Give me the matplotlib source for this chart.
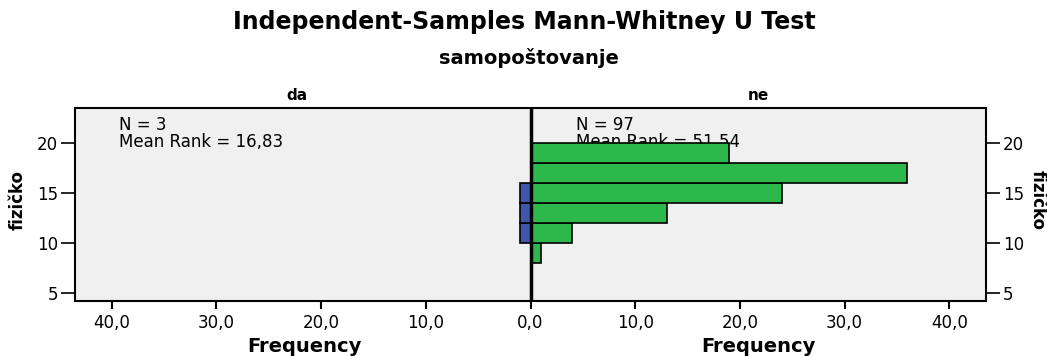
import matplotlib
matplotlib.use("Agg")
import matplotlib.pyplot as plt
from matplotlib.ticker import FixedLocator, FuncFormatter

# histogram bins of "fizičko" (bin centres, width 2)
bin_centers = [9, 11, 13, 15, 17, 19]
da_counts = [0, 1, 1, 1, 0, 0]
ne_counts = [1, 4, 13, 24, 36, 19]

groups = ["da", "ne"]
n_values = [3, 97]
mean_ranks = ["16,83", "51,54"]

x_ticks = [-40, -30, -20, -10, 0, 10, 20, 30, 40]
y_ticks = [5, 10, 15, 20]

BLUE = "#3F57AB"
GREEN = "#2DB84B"
BG = "#F0F0F0"


def _fmt_freq(x, pos):
    """Show absolute frequency with decimal comma."""
    return "{:.1f}".format(abs(x)).replace(".", ",")


def main():
    plt.rcParams["font.family"] = ["DejaVu Sans"]
    W, H = 1047, 356
    fig = plt.figure(figsize=(W / 100, H / 100), dpi=100)

    left, right, top, bottom = 75, 986, 108, 301
    ax = fig.add_axes([left / W, 1 - bottom / H, (right - left) / W, (bottom - top) / H])
    ax.set_facecolor(BG)

    ax.barh(bin_centers, [-c for c in da_counts], height=2, color=BLUE,
            edgecolor="black", linewidth=1.2, zorder=3)
    ax.barh(bin_centers, ne_counts, height=2, color=GREEN,
            edgecolor="black", linewidth=1.2, zorder=3)
    ax.axvline(0, color="black", linewidth=2.5, zorder=4)

    ax.set_xlim(-43.5, 43.5)
    ax.set_ylim(4.2, 23.5)
    ax.xaxis.set_major_locator(FixedLocator(x_ticks))
    ax.xaxis.set_major_formatter(FuncFormatter(_fmt_freq))
    ax.set_yticks(y_ticks)
    ax.tick_params(axis="x", length=6, width=1.5, labelsize=12, pad=3)
    ax.tick_params(axis="y", length=10, width=1.2, labelsize=12, pad=2,
                   right=True, labelright=True)
    for s in ax.spines.values():
        s.set_linewidth(1.5)

    # group annotations (drawn behind the bars)
    for x0, n, mr in [(-39.3, n_values[0], mean_ranks[0]), (4.3, n_values[1], mean_ranks[1])]:
        ax.text(x0, 20.95, "N = %d\nMean Rank = %s" % (n, mr), fontsize=12,
                va="center", ha="left", linespacing=0.98, zorder=1)

    fig.text(524 / W, 1 - 22 / H, "Independent-Samples Mann-Whitney U Test",
             ha="center", va="center", fontsize=17, fontweight="bold")
    fig.text(529 / W, 1 - 58 / H, "samopoštovanje", ha="center", va="center",
             fontsize=14, fontweight="bold")
    fig.text(297 / W, 1 - 95 / H, groups[0], ha="center", va="center",
             fontsize=11, fontweight="bold")
    fig.text(758 / W, 1 - 95 / H, groups[1], ha="center", va="center",
             fontsize=11, fontweight="bold")
    fig.text(304 / W, 1 - 347 / H, "Frequency", ha="center", va="center",
             fontsize=14, fontweight="bold")
    fig.text(758 / W, 1 - 347 / H, "Frequency", ha="center", va="center",
             fontsize=14, fontweight="bold")
    fig.text(18 / W, 1 - 200 / H, "fizičko", ha="center", va="center",
             rotation=90, fontsize=12, fontweight="bold")
    fig.text(1038 / W, 1 - 200 / H, "fizičko", ha="center", va="center",
             rotation=270, fontsize=12, fontweight="bold")

    fig.savefig("out.png", dpi=100, facecolor="white")


if __name__ == "__main__":
    main()
